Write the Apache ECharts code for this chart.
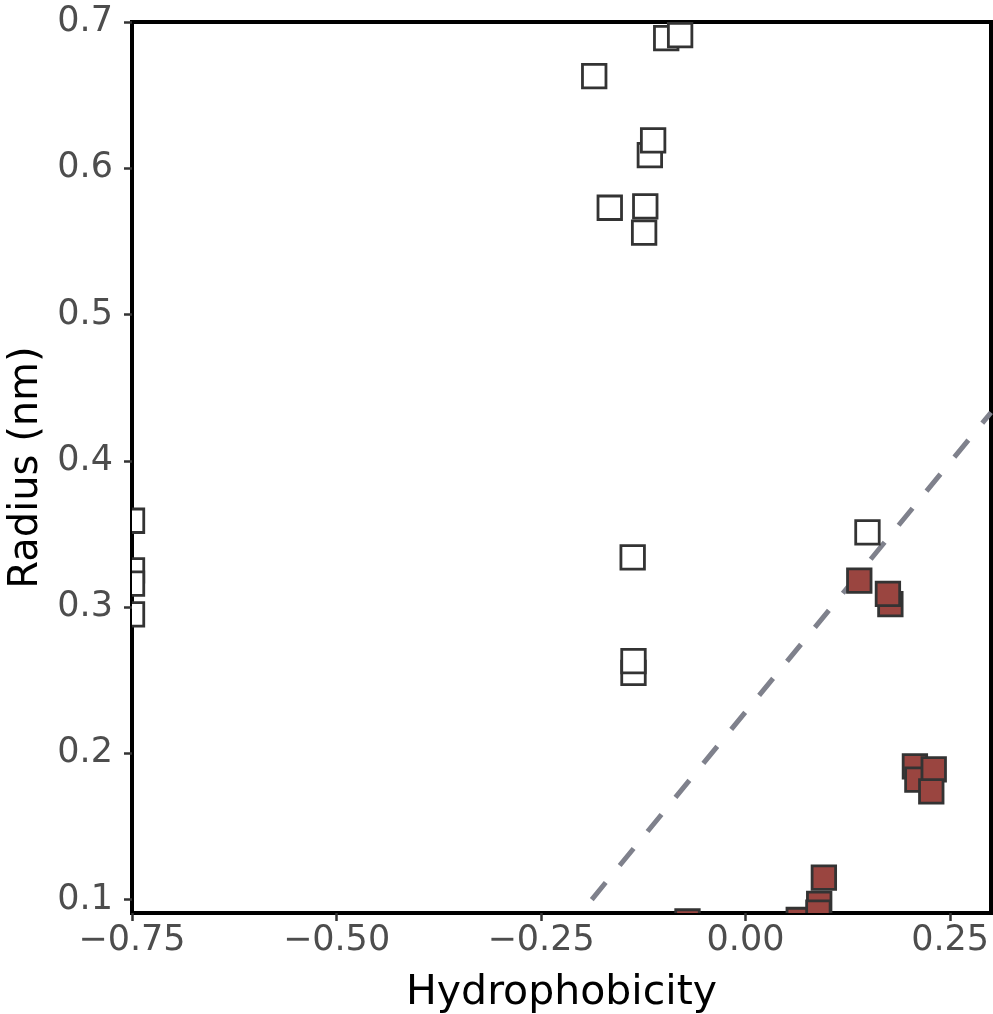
<!DOCTYPE html>
<html>
<head>
<meta charset="utf-8">
<script src="https://cdn.jsdelivr.net/npm/echarts@6/dist/echarts.min.js"></script>
<style>html,body{margin:0;padding:0;background:#fff}#c{width:993px;height:1014px}</style>
</head>
<body>
<div id="c"></div>
<script>
// Data
const openPoints = [
  [-0.75, 0.359], [-0.75, 0.325], [-0.75, 0.316], [-0.75, 0.295],
  [-0.097, 0.689], [-0.080, 0.691], [-0.185, 0.663],
  [-0.117, 0.609], [-0.113, 0.619],
  [-0.166, 0.573], [-0.124, 0.556], [-0.1226, 0.574],
  [-0.138, 0.334], [-0.137, 0.255], [-0.137, 0.263],
  [0.149, 0.351]
];
const filledPoints = [
  [0.139, 0.318], [0.177, 0.302], [0.174, 0.309],
  [0.207, 0.191], [0.210, 0.182], [0.230, 0.189], [0.227, 0.174],
  [-0.071, 0.085], [0.065, 0.086], [0.090, 0.097], [0.089, 0.091], [0.0957, 0.115]
];
const boundaryLine = [[-0.188, 0.1], [0.30, 0.433]];
const xTicks = [-0.75, -0.50, -0.25, 0.00, 0.25];
const yTicks = [0.1, 0.2, 0.3, 0.4, 0.5, 0.6, 0.7];
const xRange = [-0.75, 0.30];
const yRange = [0.0908, 0.70];

const FONT = 'DejaVu Sans';
const SQ = 23.5;
function squares(fill) {
  return function (params, api) {
    const p = api.coord([api.value(0), api.value(1)]);
    return {
      type: 'rect',
      shape: { x: p[0] - SQ / 2, y: p[1] - SQ / 2, width: SQ, height: SQ },
      style: { fill: fill, stroke: '#333333', lineWidth: 2.8 }
    };
  };
}
const chart = echarts.init(document.getElementById('c'), null, { renderer: 'canvas' });
chart.setOption({
  animation: false,
  backgroundColor: '#ffffff',
  grid: { left: 132, right: 2, top: 22, bottom: 101, show: true, borderColor: '#000', borderWidth: 4,
    backgroundColor: 'transparent', containLabel: false, outerBoundsMode: 'none' },
  xAxis: {
    type: 'value', min: xRange[0], max: xRange[1],
    name: 'Hydrophobicity', nameLocation: 'middle', nameGap: 60,
    nameTextStyle: { fontFamily: FONT, fontSize: 41, color: '#000' },
    axisLine: { show: true, onZero: false, lineStyle: { color: '#000', width: 4 } },
    axisTick: { show: true, length: 8, lineStyle: { color: '#333', width: 2.5 }, customValues: xTicks },
    axisLabel: { customValues: xTicks, margin: 10, fontFamily: FONT, fontSize: 35, color: '#4d4d4d',
      formatter: v => (v < 0 ? '\u2212' : '') + Math.abs(v).toFixed(2) },
    splitLine: { show: false }
  },
  yAxis: {
    type: 'value', min: yRange[0], max: yRange[1],
    name: 'Radius (nm)', nameLocation: 'middle', nameGap: 75, nameRotate: 90,
    nameTextStyle: { fontFamily: FONT, fontSize: 40, color: '#000' },
    axisLine: { show: true, onZero: false, lineStyle: { color: '#000', width: 4 } },
    axisTick: { show: true, length: 8, lineStyle: { color: '#333', width: 2.5 }, customValues: yTicks },
    axisLabel: { customValues: yTicks, margin: 19, fontFamily: FONT, fontSize: 35, color: '#4d4d4d',
      formatter: v => v.toFixed(1) },
    splitLine: { show: false }
  },
  series: [
    { type: 'line', data: boundaryLine, symbol: 'none', z: 1, clip: true,
      lineStyle: { color: '#7f818c', width: 5, type: [22, 22], cap: 'butt' } },
    { type: 'custom', data: openPoints, clip: true, renderItem: squares('#ffffff'), z: 2 },
    { type: 'custom', data: filledPoints, clip: true, renderItem: squares('#9a4540'), z: 3 }
  ]
});
</script>
</body>
</html>
